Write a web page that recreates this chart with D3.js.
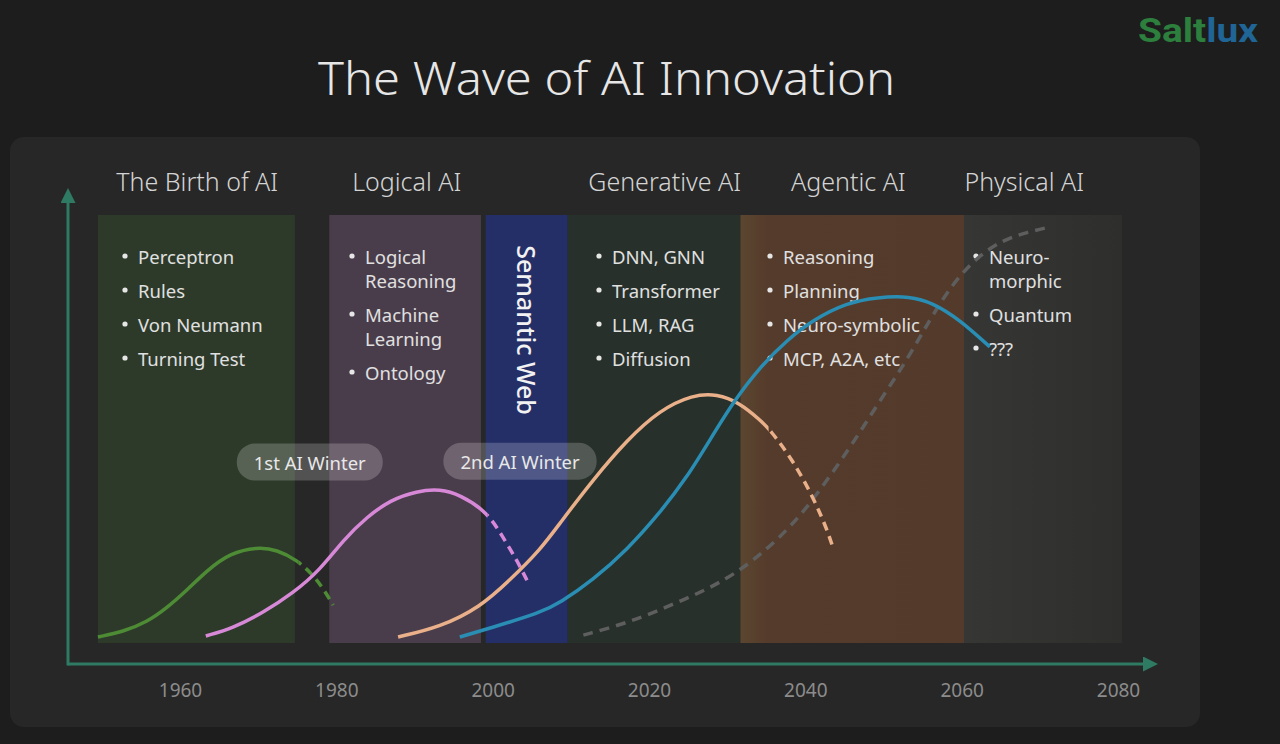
<!DOCTYPE html>
<html>
<head>
<meta charset="utf-8">
<script src="https://cdn.jsdelivr.net/npm/d3@7"></script>
<style>
  html, body { margin: 0; padding: 0; background: #1d1d1d; }
  svg { display: block; }
</style>
</head>
<body>
<div id="chart"></div>
<script>
// ---- data ----
const eraNames  = ["The Birth of AI", "Logical AI", "Semantic Web", "Generative AI", "Agentic AI", "Physical AI"];
const eraStart  = [1949.5, 1979.1, 1999.1, 2009.6, 2031.7, 2060.3];
const eraEnd    = [1974.7, 1998.5, 2009.6, 2031.7, 2060.3, 2080.5];

const birthItems      = ["Perceptron", "Rules", "Von Neumann", "Turning Test"];
const logicalItems    = ["Logical\nReasoning", "Machine\nLearning", "Ontology"];
const generativeItems = ["DNN, GNN", "Transformer", "LLM, RAG", "Diffusion"];
const agenticItems    = ["Reasoning", "Planning", "Neuro-symbolic", "MCP, A2A, etc"];
const physicalItems   = ["Neuro-\nmorphic", "Quantum", "???"];

const winterLabels = ["1st AI Winter", "2nd AI Winter"];
const winterYears  = [1976.6, 2003.5];
const winterLevel  = [42.6, 42.8];

const tickYears = [1960, 1980, 2000, 2020, 2040, 2060, 2080];

// waves: [year, level]; after the fade year each wave is drawn dashed
const birthWave = [[1949.5, 5.7], [1952.7, 6.8], [1955.8, 8.9], [1958.3, 11.8], [1960.9, 15.6], [1963.5, 19.8], [1966.4, 23.4], [1969.9, 24.7], [1972.4, 24.1], [1975.0, 21.9], [1977.0, 18.8], [1978.3, 16.0], [1979.6, 12.4]];
const logicalWave = [[1963.3, 5.9], [1966.8, 7.6], [1970.6, 10.8], [1974.5, 15.0], [1977.9, 19.8], [1980.9, 26.2], [1983.9, 31.0], [1986.9, 34.6], [1990.3, 36.5], [1993.3, 36.9], [1995.8, 35.7], [1999.3, 32.1], [2001.3, 26.8], [2003.1, 21.9], [2004.5, 17.3]];
const generativeWave = [[1987.9, 5.7], [1993.3, 7.8], [1998.4, 12.0], [2002.2, 17.7], [2006.1, 24.1], [2008.6, 29.7], [2012.8, 38.8], [2017.2, 47.3], [2021.4, 53.6], [2025.6, 56.8], [2028.7, 57.0], [2031.6, 55.1], [2034.2, 51.5], [2035.5, 49.4], [2038.4, 43.0], [2041.0, 35.2], [2042.8, 28.3], [2043.5, 24.7]];
const agenticWave = [[1995.8, 5.7], [1999.7, 7.6], [2006.1, 10.8], [2008.6, 12.9], [2012.8, 17.7], [2017.2, 24.1], [2021.4, 31.9], [2024.9, 39.5], [2027.8, 47.3], [2030.7, 55.1], [2034.2, 62.7], [2037.7, 68.4], [2041.0, 72.6], [2045.3, 76.2], [2049.2, 77.4], [2053.4, 77.6], [2056.3, 76.2], [2059.8, 72.6], [2063.6, 66.9]];
const physicalWave = [[2011.6, 6.1], [2017.2, 8.6], [2023.6, 12.9], [2030.0, 17.7], [2035.1, 24.1], [2039.3, 31.0], [2042.8, 38.8], [2046.1, 46.6], [2049.6, 55.7], [2053.0, 64.1], [2055.9, 72.6], [2058.9, 80.4], [2062.0, 85.9], [2065.3, 89.5], [2068.4, 91.1], [2071.3, 92.2]];
const fadeYears = [1975.2, 1999.3, 2035.3, null, 2011.0];

// ---- layout / style ----
const width = 1280, height = 744;
const font = "'Noto Sans', 'Open Sans', sans-serif";
const eraFill = ["#2d3a2a", "#4a3d4b", "#242f68", "#27302a", "url(#agenticGrad)", "url(#physicalGrad)"];
const headerYears = [1962.2, 1989.0, null, 2022.0, 2045.5, 2068.0];
const bulletX = [125, 352, 599, 770, 976];
const waveColors = ["#4d8b35", "#d789d8", "#e9b08a", "#2a8db3", "#5e5e5e"];

const svg = d3.select("#chart").append("svg")
  .attr("width", width)
  .attr("height", height)
  .style("background", "#1d1d1d");

const defs = svg.append("defs");
const ag = defs.append("linearGradient").attr("id", "agenticGrad");
ag.append("stop").attr("offset", "0%").attr("stop-color", "#5b4630");
ag.append("stop").attr("offset", "12%").attr("stop-color", "#553b2b");
ag.append("stop").attr("offset", "100%").attr("stop-color", "#533a2b");
const pg = defs.append("linearGradient").attr("id", "physicalGrad");
pg.append("stop").attr("offset", "0%").attr("stop-color", "#363634");
pg.append("stop").attr("offset", "100%").attr("stop-color", "#2e2e2d");

defs.append("marker")
  .attr("id", "arrow")
  .attr("viewBox", "0 0 10 10")
  .attr("refX", 2).attr("refY", 5)
  .attr("markerWidth", 5).attr("markerHeight", 5)
  .attr("orient", "auto")
  .append("path").attr("d", "M0,0 L10,5 L0,10 z").attr("fill", "#2f7a63");

// title + logo
svg.append("text")
  .attr("x", 318).attr("y", 77)
  .attr("dominant-baseline", "central")
  .attr("textLength", 577).attr("lengthAdjust", "spacingAndGlyphs")
  .style("font-family", font).style("font-weight", 300)
  .style("font-size", "45px").attr("fill", "#e6e6e6")
  .text("The Wave of AI Innovation");

const logo = svg.append("text")
  .attr("x", 1138).attr("y", 30)
  .attr("dominant-baseline", "central")
  .attr("textLength", 120).attr("lengthAdjust", "spacingAndGlyphs")
  .style("font-family", "'Liberation Sans Narrow', 'Roboto', sans-serif")
  .style("font-weight", 700).style("font-size", "33px");
logo.append("tspan").attr("fill", "#2c7f3c").text("Salt");
logo.append("tspan").attr("fill", "#1f6596").text("lux");

// panel
svg.append("rect")
  .attr("x", 10).attr("y", 137)
  .attr("width", 1190).attr("height", 590)
  .attr("rx", 14)
  .attr("fill", "#272727");

// scales
const x = d3.scaleLinear().domain([1960, 2080]).range([180, 1118]);
const y = d3.scaleLinear().domain([0, 100]).range([664, 190]);
const bandTop = 215, bandBottom = 643;

// era bands
svg.append("g").selectAll("rect")
  .data(eraNames)
  .join("rect")
  .attr("x", (d, i) => x(eraStart[i]))
  .attr("y", bandTop)
  .attr("width", (d, i) => x(eraEnd[i]) - x(eraStart[i]))
  .attr("height", bandBottom - bandTop)
  .attr("fill", (d, i) => eraFill[i]);

// era headers
eraNames.forEach((name, i) => {
  if (headerYears[i] === null) return;
  svg.append("text")
    .attr("x", x(headerYears[i])).attr("y", 181)
    .attr("text-anchor", "middle")
    .attr("dominant-baseline", "central")
    .style("font-family", font).style("font-weight", 300)
    .style("font-size", "25px").attr("fill", "#d4d4d4")
    .text(name);
});

// Semantic Web vertical label
const swx = (x(eraStart[2]) + x(eraEnd[2])) / 2;
svg.append("text")
  .attr("transform", `translate(${swx},330) rotate(90)`)
  .attr("text-anchor", "middle")
  .attr("dominant-baseline", "central")
  .style("font-family", font).style("font-weight", 500)
  .style("font-size", "25px").attr("fill", "#f2f2f2")
  .text(eraNames[2]);

// bullet lists
[birthItems, logicalItems, generativeItems, agenticItems, physicalItems].forEach((items, c) => {
  let yy = 256;
  items.forEach(item => {
    const lines = item.split("\n");
    svg.append("circle")
      .attr("cx", bulletX[c]).attr("cy", yy)
      .attr("r", 2.6).attr("fill", "#e6e6e6");
    lines.forEach((ln, j) => {
      svg.append("text")
        .attr("x", bulletX[c] + 13).attr("y", yy + j * 24)
        .attr("dominant-baseline", "central")
        .style("font-family", font).style("font-size", "18.5px")
        .attr("fill", "#e0e0e0")
        .text(ln);
    });
    yy += 34 + (lines.length - 1) * 24;
  });
});

// axes
const axisG = svg.append("g").attr("transform", `translate(0,${y(0)})`)
  .call(d3.axisBottom(x).tickValues(tickYears).tickFormat(d3.format("d")).tickSize(0).tickPadding(20));
axisG.select(".domain").remove();
axisG.selectAll("text")
  .style("font-family", font).style("font-size", "19px")
  .attr("fill", "#8c8c8c");

svg.append("line")
  .attr("x1", 68).attr("y1", y(0))
  .attr("x2", 1146).attr("y2", y(0))
  .attr("stroke", "#2f7a63").attr("stroke-width", 3)
  .attr("marker-end", "url(#arrow)");
svg.append("line")
  .attr("x1", 68).attr("y1", y(0) + 1.5)
  .attr("x2", 68).attr("y2", 200)
  .attr("stroke", "#2f7a63").attr("stroke-width", 3)
  .attr("marker-end", "url(#arrow)");

// winter pills
winterLabels.forEach((lab, i) => {
  const g = svg.append("g").attr("transform", `translate(${x(winterYears[i])},${y(winterLevel[i])})`);
  const r = g.append("rect").attr("fill", "#ffffff").attr("fill-opacity", 0.2);
  const t = g.append("text")
    .attr("text-anchor", "middle").attr("dominant-baseline", "central")
    .style("font-family", font).style("font-size", "18.5px")
    .attr("fill", "#e8e8e8").text(lab);
  const w = t.node().getComputedTextLength() + 34;
  r.attr("x", -w / 2).attr("y", -18.5).attr("width", w).attr("height", 37).attr("rx", 18);
});

// waves: one smooth path each, split into solid / dashed by clipping at the fade year
const line = d3.line()
  .x(d => x(d[0]))
  .y(d => y(d[1]))
  .curve(d3.curveBasis);

const waveList = [birthWave, logicalWave, generativeWave, agenticWave, physicalWave];
const drawOrder = [0, 1, 4, 2, 3];

drawOrder.forEach(i => {
  const pts = waveList[i];
  const split = fadeYears[i] === null ? x(2100) : x(fadeYears[i]);
  defs.append("clipPath").attr("id", `solid${i}`)
    .append("rect").attr("x", 0).attr("y", 0).attr("width", split).attr("height", height);
  defs.append("clipPath").attr("id", `fade${i}`)
    .append("rect").attr("x", split).attr("y", 0).attr("width", width - split).attr("height", height);

  svg.append("path")
    .attr("d", line(pts))
    .attr("fill", "none")
    .attr("stroke", waveColors[i])
    .attr("stroke-width", 3.5)
    .attr("clip-path", `url(#solid${i})`);

  svg.append("path")
    .attr("d", line(pts))
    .attr("fill", "none")
    .attr("stroke", waveColors[i])
    .attr("stroke-width", 3.5)
    .attr("stroke-dasharray", i === 4 ? "10,7" : "9,6")
    .attr("clip-path", `url(#fade${i})`);
});
</script>
</body>
</html>
